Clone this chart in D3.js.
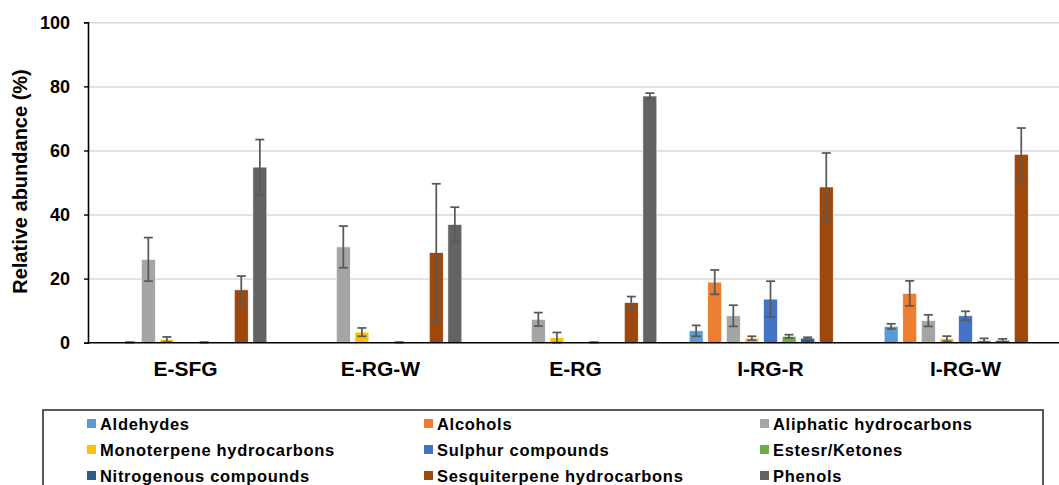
<!DOCTYPE html>
<html><head><meta charset="utf-8">
<script src="https://cdn.jsdelivr.net/npm/d3@7"></script>
<style>
body{margin:0;background:#fff;}
svg{display:block;font-family:"Liberation Sans",Arial,sans-serif;}
</style></head>
<body><svg id="c" width="1059" height="485"></svg>
<script>
const categories = ["E-SFG","E-RG-W","E-RG","I-RG-R","I-RG-W"];
const seriesNames = ["Aldehydes","Alcohols","Aliphatic hydrocarbons","Monoterpene hydrocarbons","Sulphur compounds","Estesr/Ketones","Nitrogenous compounds","Sesquiterpene hydrocarbons","Phenols"];
const seriesColors = ["#5B9BD5","#ED7D31","#A5A5A5","#FFC000","#4472C4","#70AD47","#255E91","#9E480E","#636363"];
const aldehydes     = [0, 0, 0, 3.7, 5.1];
const alcohols      = [0.1, 0, 0, 18.9, 15.4];
const aliphatic     = [26.0, 29.9, 7.3, 8.4, 6.9];
const monoterpene   = [1.0, 3.3, 1.6, 1.4, 1.25];
const sulphur       = [0, 0, 0, 13.6, 8.4];
const esters        = [0.1, 0.1, 0.1, 2.0, 0.75];
const nitrogenous   = [0, 0, 0, 1.4, 0.75];
const sesquiterpene = [16.5, 28.1, 12.5, 48.6, 58.8];
const phenols       = [54.8, 36.9, 77.0, 0, 0];
const errAldehydes     = [0, 0, 0, 1.7, 0.8];
const errAlcohols      = [0.05, 0, 0, 3.8, 3.9];
const errAliphatic     = [6.8, 6.5, 2.1, 3.3, 1.8];
const errMonoterpene   = [0.8, 1.3, 1.6, 0.6, 0.8];
const errSulphur       = [0, 0, 0, 5.6, 1.4];
const errEsters        = [0.05, 0.05, 0.05, 0.5, 0.6];
const errNitrogenous   = [0, 0, 0, 0.3, 0.45];
const errSesquiterpene = [4.3, 21.5, 1.9, 10.6, 8.2];
const errPhenols       = [8.6, 5.4, 0.9, 0, 0];
const yTicks = [0, 20, 40, 60, 80, 100];

const values = [aldehydes, alcohols, aliphatic, monoterpene, sulphur, esters, nitrogenous, sesquiterpene, phenols];
const errors = [errAldehydes, errAlcohols, errAliphatic, errMonoterpene, errSulphur, errEsters, errNitrogenous, errSesquiterpene, errPhenols];

const svg = d3.select("#c");
const plotL = 88, plotR = 1063, plotT = 22.3, plotB = 342.7;

const x0 = d3.scaleBand().domain(categories).range([plotL, plotR]);
const x1 = d3.scaleBand().domain(seriesNames).range([0, x0.bandwidth()]).paddingInner(0.25).paddingOuter(0.87);
const y = d3.scaleLinear().domain([0, 100]).range([plotB, plotT]);

// gridlines
const grid = svg.append("g").attr("transform", `translate(${plotL},0)`)
  .call(d3.axisLeft(y).tickValues(yTicks.slice(1)).tickSize(-(1059 - plotL)).tickFormat(""));
grid.select(".domain").remove();
grid.selectAll("line").attr("stroke", "#d9d9d9").attr("stroke-width", 1.5);

// data
const data = [];
categories.forEach((c, ci) => {
  seriesNames.forEach((s, si) => {
    data.push({c, s, si, v: values[si][ci], e: errors[si][ci]});
  });
});

const g = svg.append("g");
g.selectAll("rect").data(data.filter(d => d.v > 0.5)).join("rect")
  .attr("x", d => x0(d.c) + x1(d.s))
  .attr("width", x1.bandwidth())
  .attr("y", d => y(d.v))
  .attr("height", d => y(0) - y(d.v))
  .attr("fill", d => seriesColors[d.si])
  .attr("stroke", "#fff").attr("stroke-width", 0.6);

// error bars
const eg = svg.append("g").attr("stroke", "#595959").attr("stroke-width", 1.75).attr("fill", "none");
data.filter(d => d.e > 0).forEach(d => {
  const cx = x0(d.c) + x1(d.s) + x1.bandwidth() / 2;
  const yt = y(d.v + d.e), yb = y(Math.max(0, d.v - d.e));
  eg.append("line").attr("x1", cx).attr("x2", cx).attr("y1", yt).attr("y2", yb);
  eg.append("line").attr("x1", cx - 4.5).attr("x2", cx + 4.5).attr("y1", yt).attr("y2", yt);
  eg.append("line").attr("x1", cx - 4.5).attr("x2", cx + 4.5).attr("y1", yb).attr("y2", yb);
});

// y axis
const ya = svg.append("g").attr("transform", `translate(${plotL},0)`)
  .call(d3.axisLeft(y).tickValues(yTicks).tickSize(4).tickPadding(14));
ya.select(".domain").attr("stroke", "#000").attr("stroke-width", 1.6);
ya.selectAll(".tick line").attr("stroke", "#000").attr("stroke-width", 1.4);
ya.selectAll("text").attr("font-size", 18).attr("font-weight", "bold").attr("fill", "#000")
  .attr("font-family", "Liberation Sans, Arial, sans-serif");

// x axis
const xa = svg.append("g").attr("transform", `translate(0,${plotB})`)
  .call(d3.axisBottom(x0).tickSize(0).tickPadding(18));
xa.select(".domain").attr("d", `M${plotL},0H1059`).attr("stroke", "#000").attr("stroke-width", 1.6);
xa.selectAll("text").attr("font-size", 21).attr("font-weight", "bold").attr("fill", "#000")
  .attr("font-family", "Liberation Sans, Arial, sans-serif");

// y title
svg.append("text").attr("transform", "translate(27,181.5) rotate(-90)")
  .attr("text-anchor", "middle").attr("font-size", 20).attr("font-weight", "bold")
  .text("Relative abundance (%)");

// legend
svg.append("rect").attr("x", 43).attr("y", 410).attr("width", 1000).attr("height", 90)
  .attr("fill", "none").attr("stroke", "#222").attr("stroke-width", 1.5);
const colX = [87, 424, 760];
const rowY = [430, 456, 482];
const lg = svg.append("g").selectAll("g").data(seriesNames).join("g")
  .attr("transform", (d, i) => `translate(${colX[i % 3]},${rowY[Math.floor(i / 3)]})`);
lg.append("rect").attr("x", 0).attr("y", -11).attr("width", 9).attr("height", 9)
  .attr("fill", (d, i) => seriesColors[i]);
lg.append("text").attr("x", 13).attr("y", 0).attr("font-size", 16.5).attr("font-weight", "bold")
  .attr("letter-spacing", "0.7px").text(d => d);
</script></body></html>
